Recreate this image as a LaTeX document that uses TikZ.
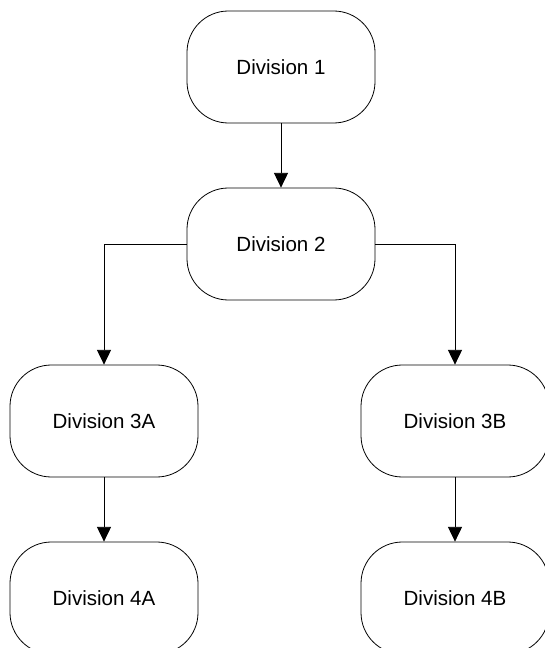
\documentclass[tikz,border=0pt]{standalone}
\usepackage{fontspec}
\setmainfont{Liberation Sans}
\usetikzlibrary{arrows.meta}

\tikzset{
  division/.style={draw, line width=0.6pt, rounded corners=31pt,
    minimum width=141pt, minimum height=84pt,
    font=\fontsize{15.4}{18}\selectfont},
  link/.style={line width=0.6pt, -{Triangle[width=10.5pt,length=11pt]}}
}

\begin{document}
\begin{tikzpicture}[x=0.75pt,y=-0.75pt]
  \useasboundingbox (0,0) rectangle (544,648);

  \node[division] (div1) at (281,67) {Division 1};
  \node[division] (div2) at (281,244) {Division 2};
  \node[division] (div3a) at (104,421) {Division 3A};
  \node[division] (div3b) at (455,421) {Division 3B};
  \node[division] (div4a) at (104,598) {Division 4A};
  \node[division] (div4b) at (455,598) {Division 4B};

  \draw[link] (div1) -- (div2);
  \draw[link] (div2.west) -| (div3a.north);
  \draw[link] (div2.east) -| (div3b.north);
  \draw[link] (div3a) -- (div4a);
  \draw[link] (div3b) -- (div4b);
\end{tikzpicture}
\end{document}
